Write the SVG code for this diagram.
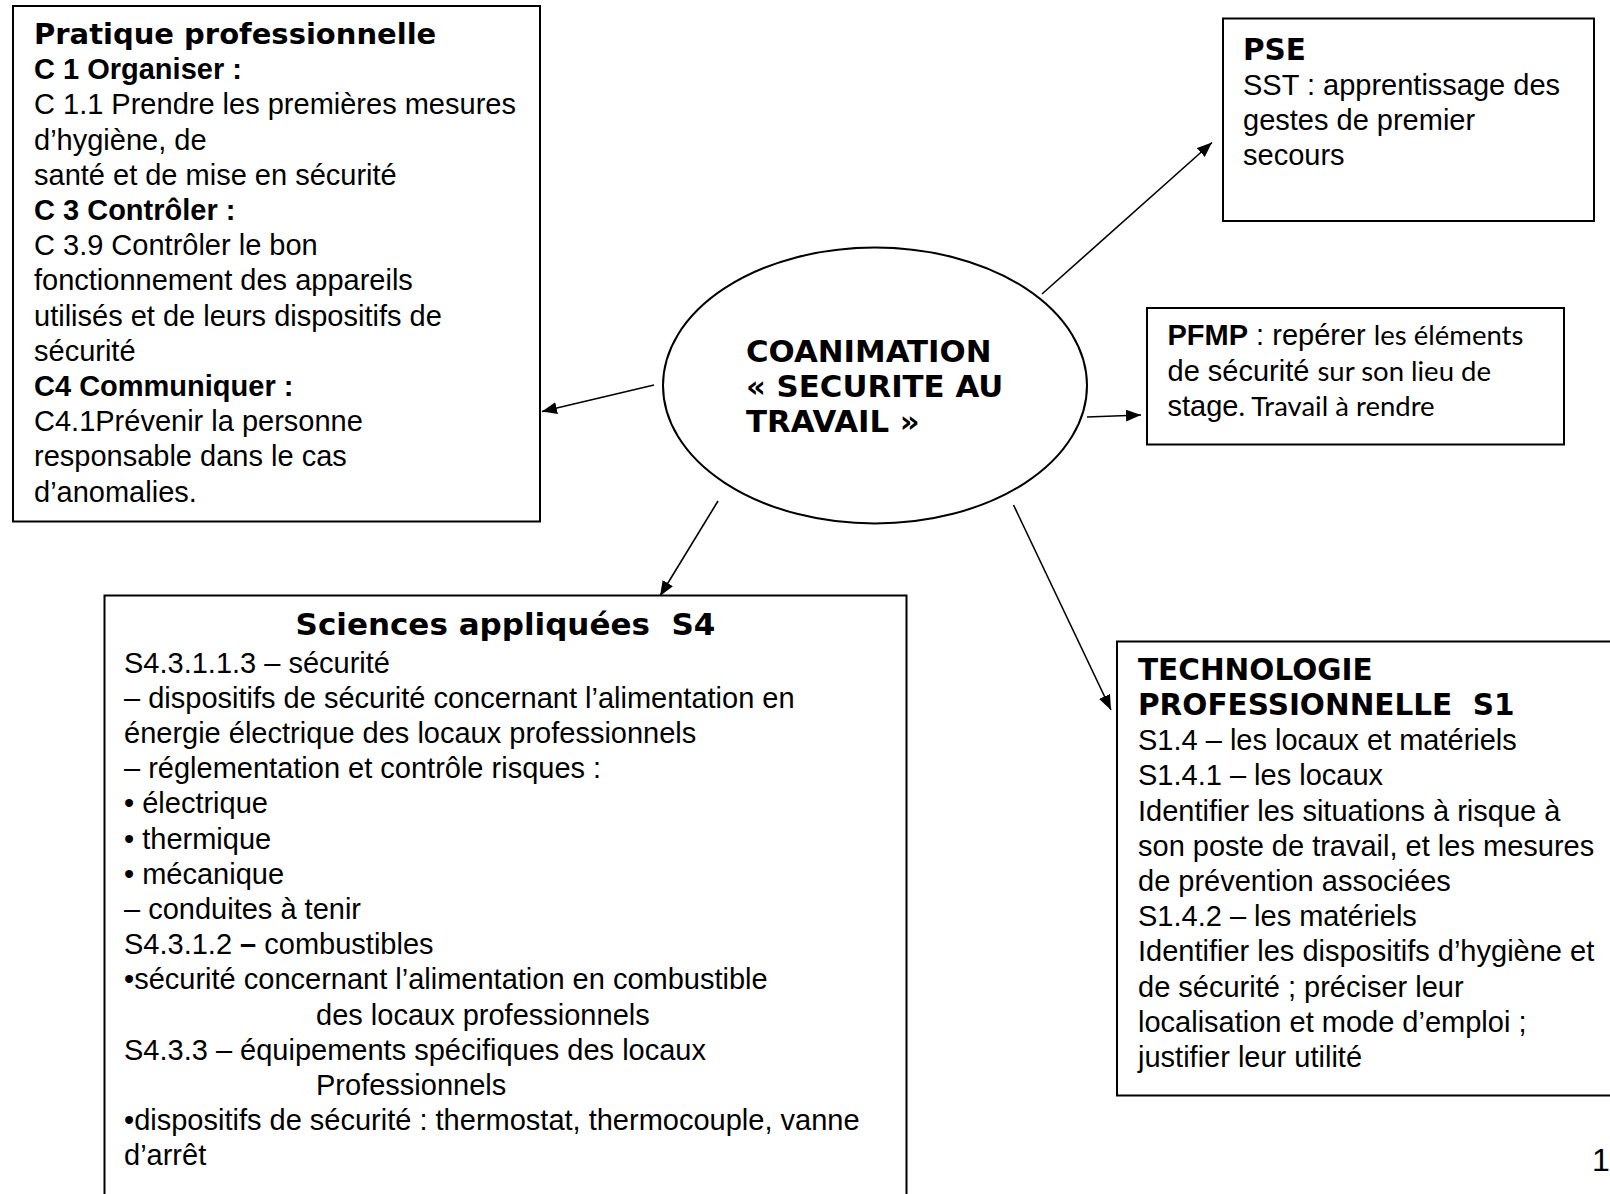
<svg xmlns="http://www.w3.org/2000/svg" width="1610" height="1194" viewBox="0 0 1610 1194">
<style>
.box{fill:#fff;stroke:#000;stroke-width:2}
.t{font-family:"Liberation Sans",Arial,sans-serif;font-size:29px;fill:#000}
.b{font-family:"Liberation Sans",Arial,sans-serif;font-size:29px;font-weight:bold;fill:#000}
.v{font-family:"DejaVu Sans",Verdana,sans-serif;font-size:29.5px;font-weight:bold;fill:#000;white-space:pre}
.c{font-family:Lato,"Noto Sans",sans-serif;font-size:27.5px}
.conn{stroke:#000;stroke-width:1.6;fill:none;marker-end:url(#arr)}
</style>
<defs>
<marker id="arr" markerUnits="userSpaceOnUse" markerWidth="16" markerHeight="12" refX="15" refY="6" orient="auto">
<path d="M0,0 L15,6 L0,12 z" fill="#000"/>
</marker>
</defs>
<rect width="1610" height="1194" fill="#fff"/>

<g id="connectors">
<line class="conn" x1="654" y1="385" x2="542" y2="411.5"/>
<line class="conn" x1="1042" y1="294" x2="1212" y2="142.5"/>
<line class="conn" x1="1087" y1="417" x2="1141" y2="415"/>
<line class="conn" x1="718" y1="501" x2="660" y2="596"/>
<line class="conn" x1="1013.5" y1="505" x2="1111" y2="710"/>
</g>

<g id="center">
<ellipse cx="875" cy="385.5" rx="212" ry="138" fill="#fff" stroke="#000" stroke-width="2"/>
<text class="v" x="746" y="362" style="font-size:30.8px">COANIMATION</text>
<text class="v" x="746" y="397" style="font-size:30.8px">« SECURITE AU</text>
<text class="v" x="746" y="432" style="font-size:30.8px">TRAVAIL »</text>
</g>

<g id="pratique">
<rect class="box" x="13" y="6" width="527" height="515.5"/>
<text class="v" x="34" y="44" style="font-size:29px">Pratique professionnelle</text>
<text class="b" x="34" y="79.2">C 1 Organiser :</text>
<text class="t" x="34" y="114.4">C 1.1 Prendre les premières mesures</text>
<text class="t" x="34" y="149.6">d’hygiène, de</text>
<text class="t" x="34" y="184.8">santé et de mise en sécurité</text>
<text class="b" x="34" y="220">C 3 Contrôler :</text>
<text class="t" x="34" y="255.2">C 3.9 Contrôler le bon</text>
<text class="t" x="34" y="290.4">fonctionnement des appareils</text>
<text class="t" x="34" y="325.6">utilisés et de leurs dispositifs de</text>
<text class="t" x="34" y="360.8">sécurité</text>
<text class="b" x="34" y="396">C4 Communiquer :</text>
<text class="t" x="34" y="431.2">C4.1Prévenir la personne</text>
<text class="t" x="34" y="466.4">responsable dans le cas</text>
<text class="t" x="34" y="501.6">d’anomalies.</text>
</g>

<g id="pse">
<rect class="box" x="1223" y="18.5" width="371" height="202.5"/>
<text class="v" x="1243" y="59.5">PSE</text>
<text class="t" x="1243" y="95">SST : apprentissage des</text>
<text class="t" x="1243" y="130.2">gestes de premier</text>
<text class="t" x="1243" y="165.4">secours</text>
</g>

<g id="pfmp">
<rect class="box" x="1147" y="308" width="417" height="136.5"/>
<text class="t" x="1167.5" y="345"><tspan font-weight="bold">PFMP</tspan> : repérer <tspan class="c">les éléments</tspan></text>
<text class="t" x="1167.5" y="380.5">de sécurité <tspan class="c">sur son lieu de</tspan></text>
<text class="t" x="1167.5" y="416">stage<tspan class="c">. Travail à rendre</tspan></text>
</g>

<g id="sciences">
<rect class="box" x="104.5" y="595.5" width="802" height="620"/>
<text class="v" x="505.5" y="634.5" text-anchor="middle" style="font-size:31px">Sciences appliquées  S4</text>
<text class="t" x="124" y="672.5">S4.3.1.1.3 – sécurité</text>
<text class="t" x="124" y="707.7">– dispositifs de sécurité concernant l’alimentation en</text>
<text class="t" x="124" y="742.9">énergie électrique des locaux professionnels</text>
<text class="t" x="124" y="778.1">– réglementation et contrôle risques :</text>
<text class="t" x="124" y="813.3">• électrique</text>
<text class="t" x="124" y="848.5">• thermique</text>
<text class="t" x="124" y="883.7">• mécanique</text>
<text class="t" x="124" y="918.9">– conduites à tenir</text>
<text class="t" x="124" y="954.1">S4.3.1.2 <tspan font-weight="bold">–</tspan> combustibles</text>
<text class="t" x="124" y="989.3">•sécurité concernant l’alimentation en combustible</text>
<text class="t" x="316" y="1024.5">des locaux professionnels</text>
<text class="t" x="124" y="1059.7">S4.3.3 – équipements spécifiques des locaux</text>
<text class="t" x="316" y="1094.9">Professionnels</text>
<text class="t" x="124" y="1130.1">•dispositifs de sécurité : thermostat, thermocouple, vanne</text>
<text class="t" x="124" y="1165.3">d’arrêt</text>
</g>

<g id="technologie">
<rect class="box" x="1117" y="641.5" width="500" height="454"/>
<text class="v" x="1138" y="679.7">TECHNOLOGIE</text>
<text class="v" x="1138" y="714.9">PROFESSIONNELLE  S1</text>
<text class="t" x="1138" y="750.1">S1.4 – les locaux et matériels</text>
<text class="t" x="1138" y="785.3">S1.4.1 – les locaux</text>
<text class="t" x="1138" y="820.5">Identifier les situations à risque à</text>
<text class="t" x="1138" y="855.7">son poste de travail, et les mesures</text>
<text class="t" x="1138" y="890.9">de prévention associées</text>
<text class="t" x="1138" y="926.1">S1.4.2 – les matériels</text>
<text class="t" x="1138" y="961.3">Identifier les dispositifs d’hygiène et</text>
<text class="t" x="1138" y="996.5">de sécurité ; préciser leur</text>
<text class="t" x="1138" y="1031.7">localisation et mode d’emploi ;</text>
<text class="t" x="1138" y="1066.9">justifier leur utilité</text>
</g>

<text class="t" x="1592" y="1171" style="font-size:32px">1</text>
</svg>
